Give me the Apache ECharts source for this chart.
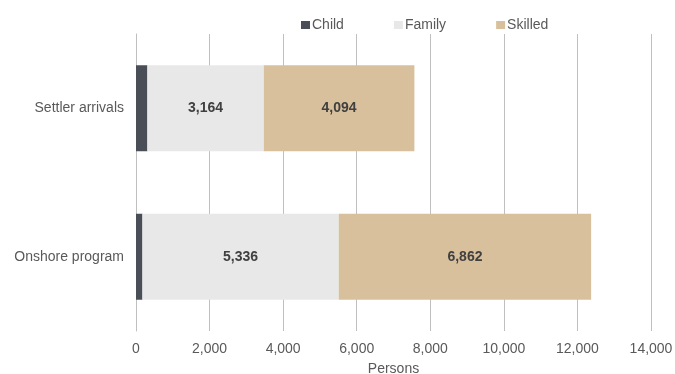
<!DOCTYPE html>
<html><head><meta charset="utf-8">
<script src="https://cdn.jsdelivr.net/npm/echarts@6/dist/echarts.min.js"></script>
<style>html,body{margin:0;padding:0;background:#fff}#c{width:675px;height:374px}</style>
</head><body><div id="c"></div>
<script>
const categories = ['Onshore program', 'Settler arrivals'];
const child = [175, 310];
const family = [5336, 3164];
const skilled = [6862, 4094];
const xTicks = {min: 0, max: 14000, interval: 2000};

const font = 'Liberation Sans, Arial, sans-serif';
const chart = echarts.init(document.getElementById('c'));
const lbl = {show: true, position: 'inside', fontFamily: font, fontSize: 14, fontWeight: 'bold', color: '#404040',
  formatter: p => p.value.toLocaleString('en-US')};
chart.setOption({
  animation: false,
  legend: {top: 13, left: 296, itemWidth: 9, itemHeight: 8, itemGap: 50, icon: 'rect',
    textStyle: {fontFamily: font, fontSize: 14, color: '#595959', padding: [0,0,0,-3]},
    data: ['Child', 'Family', 'Skilled']},
  grid: {left: 136, right: 24, top: 34, bottom: 43, outerBoundsMode: 'none', containLabel: false},
  xAxis: {type: 'value', min: xTicks.min, max: xTicks.max, interval: xTicks.interval,
    name: 'Persons', nameLocation: 'middle', nameGap: 31,
    nameTextStyle: {fontFamily: font, fontSize: 14, color: '#595959'},
    axisLine: {show: false}, axisTick: {show: false},
    axisLabel: {fontFamily: font, fontSize: 14, color: '#595959', margin: 11,
      formatter: v => v.toLocaleString('en-US')},
    splitLine: {lineStyle: {color: '#bfbfbf', width: 1}}},
  yAxis: {type: 'category', data: categories,
    axisLine: {lineStyle: {color: '#bfbfbf'}}, axisTick: {show: false},
    axisLabel: {fontFamily: font, fontSize: 14, color: '#595959', margin: 12}},
  series: [
    {name: 'Child', type: 'bar', stack: 's', data: child, barWidth: 86, itemStyle: {color: '#4a4f57'}},
    {name: 'Family', type: 'bar', stack: 's', data: family, itemStyle: {color: '#e8e8e8'}, label: lbl},
    {name: 'Skilled', type: 'bar', stack: 's', data: skilled, itemStyle: {color: '#d9c09c'}, label: lbl}
  ]
});
</script></body></html>
